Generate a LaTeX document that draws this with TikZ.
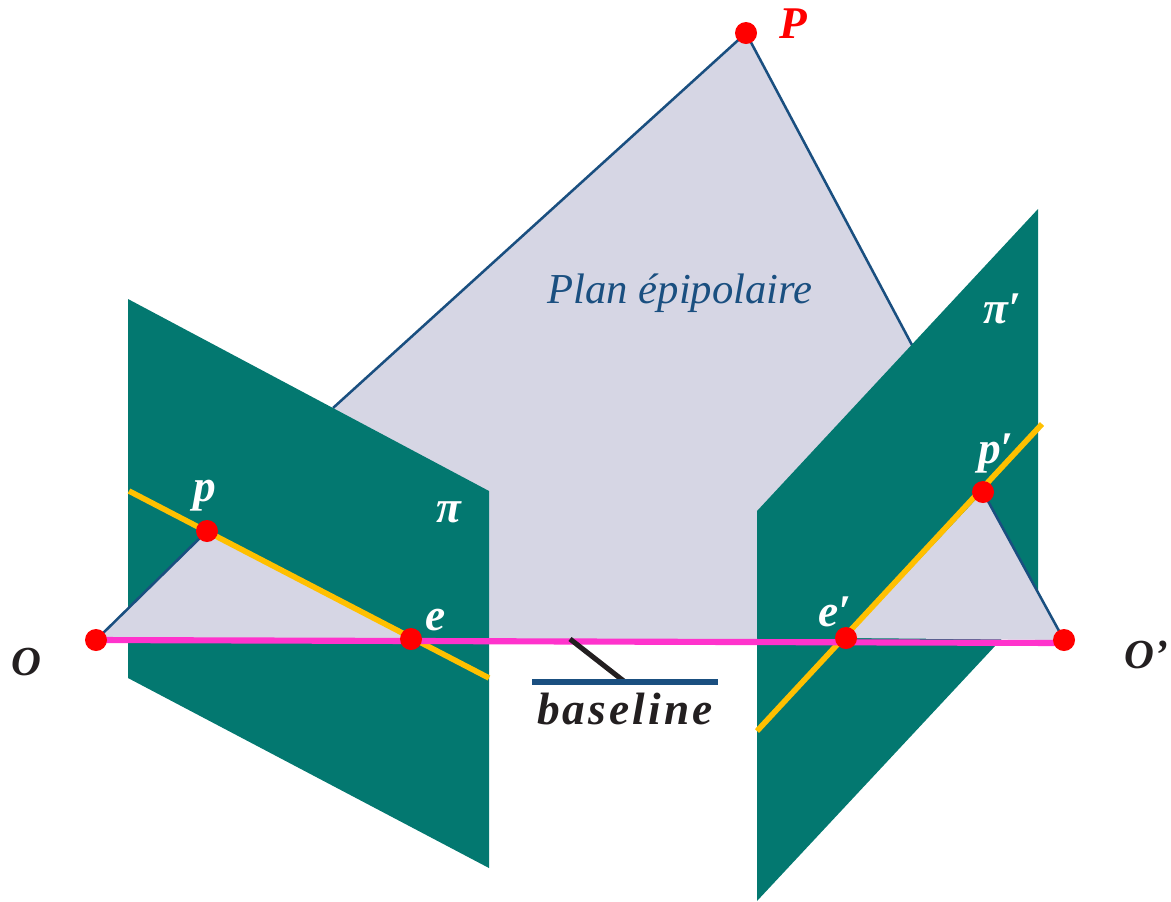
\documentclass[tikz,border=0pt]{standalone}
\usepackage{fontspec}
\setmainfont{Liberation Serif}
\usepackage{tikz}
\usetikzlibrary{positioning}
\definecolor{cTeal}{HTML}{037870}
\definecolor{cPlane}{HTML}{D6D6E4}
\definecolor{cBlue}{HTML}{1A4F80}
\definecolor{cYellow}{HTML}{FFC000}
\definecolor{cPink}{HTML}{FF33CC}
\definecolor{cDark}{HTML}{231F20}
\tikzset{
  dot/.style={circle, fill=red, inner sep=0pt, minimum size=16.5pt},
  image/.style={fill=cTeal},
  epi/.style={fill=cPlane},
  ray/.style={draw=cBlue, line width=1.9pt},
  epiline/.style={draw=cYellow, line width=4.2pt},
  base/.style={draw=cPink, line width=4.6pt},
  wlabel/.style={font=\fontsize{34}{34}\selectfont\bfseries\itshape, text=white, inner sep=0pt},
  dlabel/.style={font=\fontsize{31}{31}\selectfont\bfseries\itshape, text=cDark, inner sep=0pt},
}

\begin{document}
\begin{tikzpicture}[x=0.75pt, y=-0.75pt]
  \useasboundingbox (0,0) rectangle (1171,901);

  % Points
  \coordinate (P) at (746,33);
  \coordinate (O) at (96,640);
  \coordinate (Op) at (1064,640);
  \coordinate (p) at (207,531);
  \coordinate (e) at (411,639);
  \coordinate (pp) at (983,492);
  \coordinate (ep) at (846,638);

  % Epipolar plane
  \coordinate (pleft) at (333,408);
  \coordinate (pright) at (912,345);
  \fill[epi] (P) -- (pleft) -- (333,639) -- (912,639) -- (pright) -- cycle;
  \draw[ray] (pleft) -- (P) -- (pright);

  % Image planes
  \fill[image] (128,299) -- (489,491) -- (489,868) -- (128,678) -- cycle;
  \fill[image] (757,511) -- (1038,209) -- (1038,600) -- (757,901) -- cycle;

  % Triangles
  \fill[epi] (O) -- (p) -- (e) -- cycle;
  \fill[epi] (ep) -- (pp) -- (Op) -- cycle;
  \draw[ray] (O) -- (p);
  \draw[ray] (pp) -- (Op);

  % Epipolar lines
  \coordinate (la) at (129,491);
  \coordinate (lb) at (489,678);
  \coordinate (ra) at (757,731);
  \coordinate (rb) at (1042,424);
  \draw[epiline] (la) -- (lb);
  \draw[epiline] (ra) -- (rb);

  % Baseline
  \coordinate (ba) at (96,640);
  \coordinate (bb) at (1064,643);
  \draw[base] (ba) -- (bb);
  \coordinate (tick) at (570,639);
  \coordinate (bl) at (532,682);
  \coordinate (br) at (718,682);
  \coordinate (bm) at (625,682);
  \draw[cDark, line width=3.8pt] (tick) -- (bm);
  \draw[cBlue, line width=4.2pt] (bl) -- (br);
  \node[dlabel, below=8pt of bm, font=\fontsize{34}{34}\selectfont\bfseries\itshape\addfontfeature{LetterSpace=7}] (blabel) {baseline};

  % Dots
  \node[dot] (nP) at (P) {};
  \node[dot] (nO) at (O) {};
  \node[dot] (nOp) at (Op) {};
  \node[dot] (np) at (p) {};
  \node[dot] (ne) at (e) {};
  \node[dot] (npp) at (pp) {};
  \node[dot] (nep) at (ep) {};

  % Labels
  \node[wlabel] (lp) at (205,496) {p};
  \node[wlabel] (le) at (436,620) {e};
  \node[wlabel] (lpp) at (996,453) {p′};
  \node[wlabel] (lep) at (835,612) {e′};
  \node[wlabel] (lpi) at (449,512) {π};
  \node[wlabel] (lpip) at (1002,309) {π′};
  \node[font=\fontsize{34}{34}\selectfont\bfseries\itshape, text=red, inner sep=0pt] (lP) at (793,24) {P};
  \node[dlabel] (lO) at (26,662) {O};
  \node[dlabel, anchor=west] (lOp) at (1124,655) {O’};
  \node[font=\fontsize{32}{32}\selectfont\itshape, text=cBlue, inner sep=0pt] (lplan) at (680,293) {Plan épipolaire};
\end{tikzpicture}
\end{document}
